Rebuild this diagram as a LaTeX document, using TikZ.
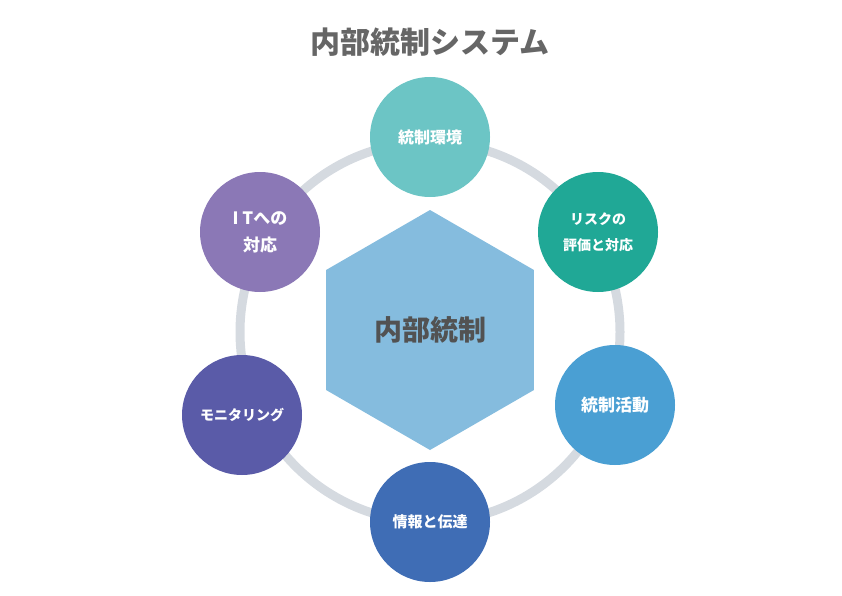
\documentclass[tikz,border=0pt]{standalone}
\usepackage{fontspec}
\setmainfont{Noto Sans CJK JP}
\usetikzlibrary{shapes.geometric}
\definecolor{ringgray}{HTML}{D5DAE0}
\definecolor{hexblue}{HTML}{85BCDE}
\definecolor{titlegray}{HTML}{666666}
\definecolor{cEnv}{HTML}{6CC5C5}
\definecolor{cRisk}{HTML}{20A896}
\definecolor{cAct}{HTML}{4A9FD3}
\definecolor{cInfo}{HTML}{3F6DB5}
\definecolor{cMon}{HTML}{5A5BA8}
\definecolor{cIT}{HTML}{8B78B6}
\begin{document}
\begin{tikzpicture}[
    x=1pt, y=-1pt,
    element/.style={circle, minimum size=120pt, inner sep=0pt, text=white,
      font=\fontsize{16}{21}\selectfont\bfseries, align=center}
  ]
  \useasboundingbox (0,0) rectangle (842,596);
  \node[font=\fontsize{30}{34}\selectfont\bfseries, text=titlegray] (title) at (430,42) {内部統制システム};
  \draw[ringgray, line width=9pt] (430,332) circle (190);
  \node[regular polygon, regular polygon sides=6, shape border rotate=30, fill=hexblue,
    minimum size=240pt, inner sep=0pt, text=titlegray!80!black,
    font=\fontsize{28}{32}\selectfont\bfseries] (core) at (430,330) {内部統制};
  \node[element, fill=cEnv] (env) at (430,137) {統制環境};
  \node[element, fill=cRisk, font=\fontsize{14}{26}\selectfont\bfseries] (risk) at (598,232) {リスクの\\評価と対応};
  \node[element, fill=cAct, font=\fontsize{17}{21}\selectfont\bfseries] (act) at (615,405) {統制活動};
  \node[element, fill=cInfo, font=\fontsize{15}{21}\selectfont\bfseries] (info) at (430,522) {情報と伝達};
  \node[element, fill=cMon, font=\fontsize{14}{21}\selectfont\bfseries] (mon) at (242,415) {モニタリング};
  \node[element, fill=cIT, font=\fontsize{17}{27}\selectfont\bfseries] (it) at (260,232) {I Tへの\\対応};
\end{tikzpicture}
\end{document}
